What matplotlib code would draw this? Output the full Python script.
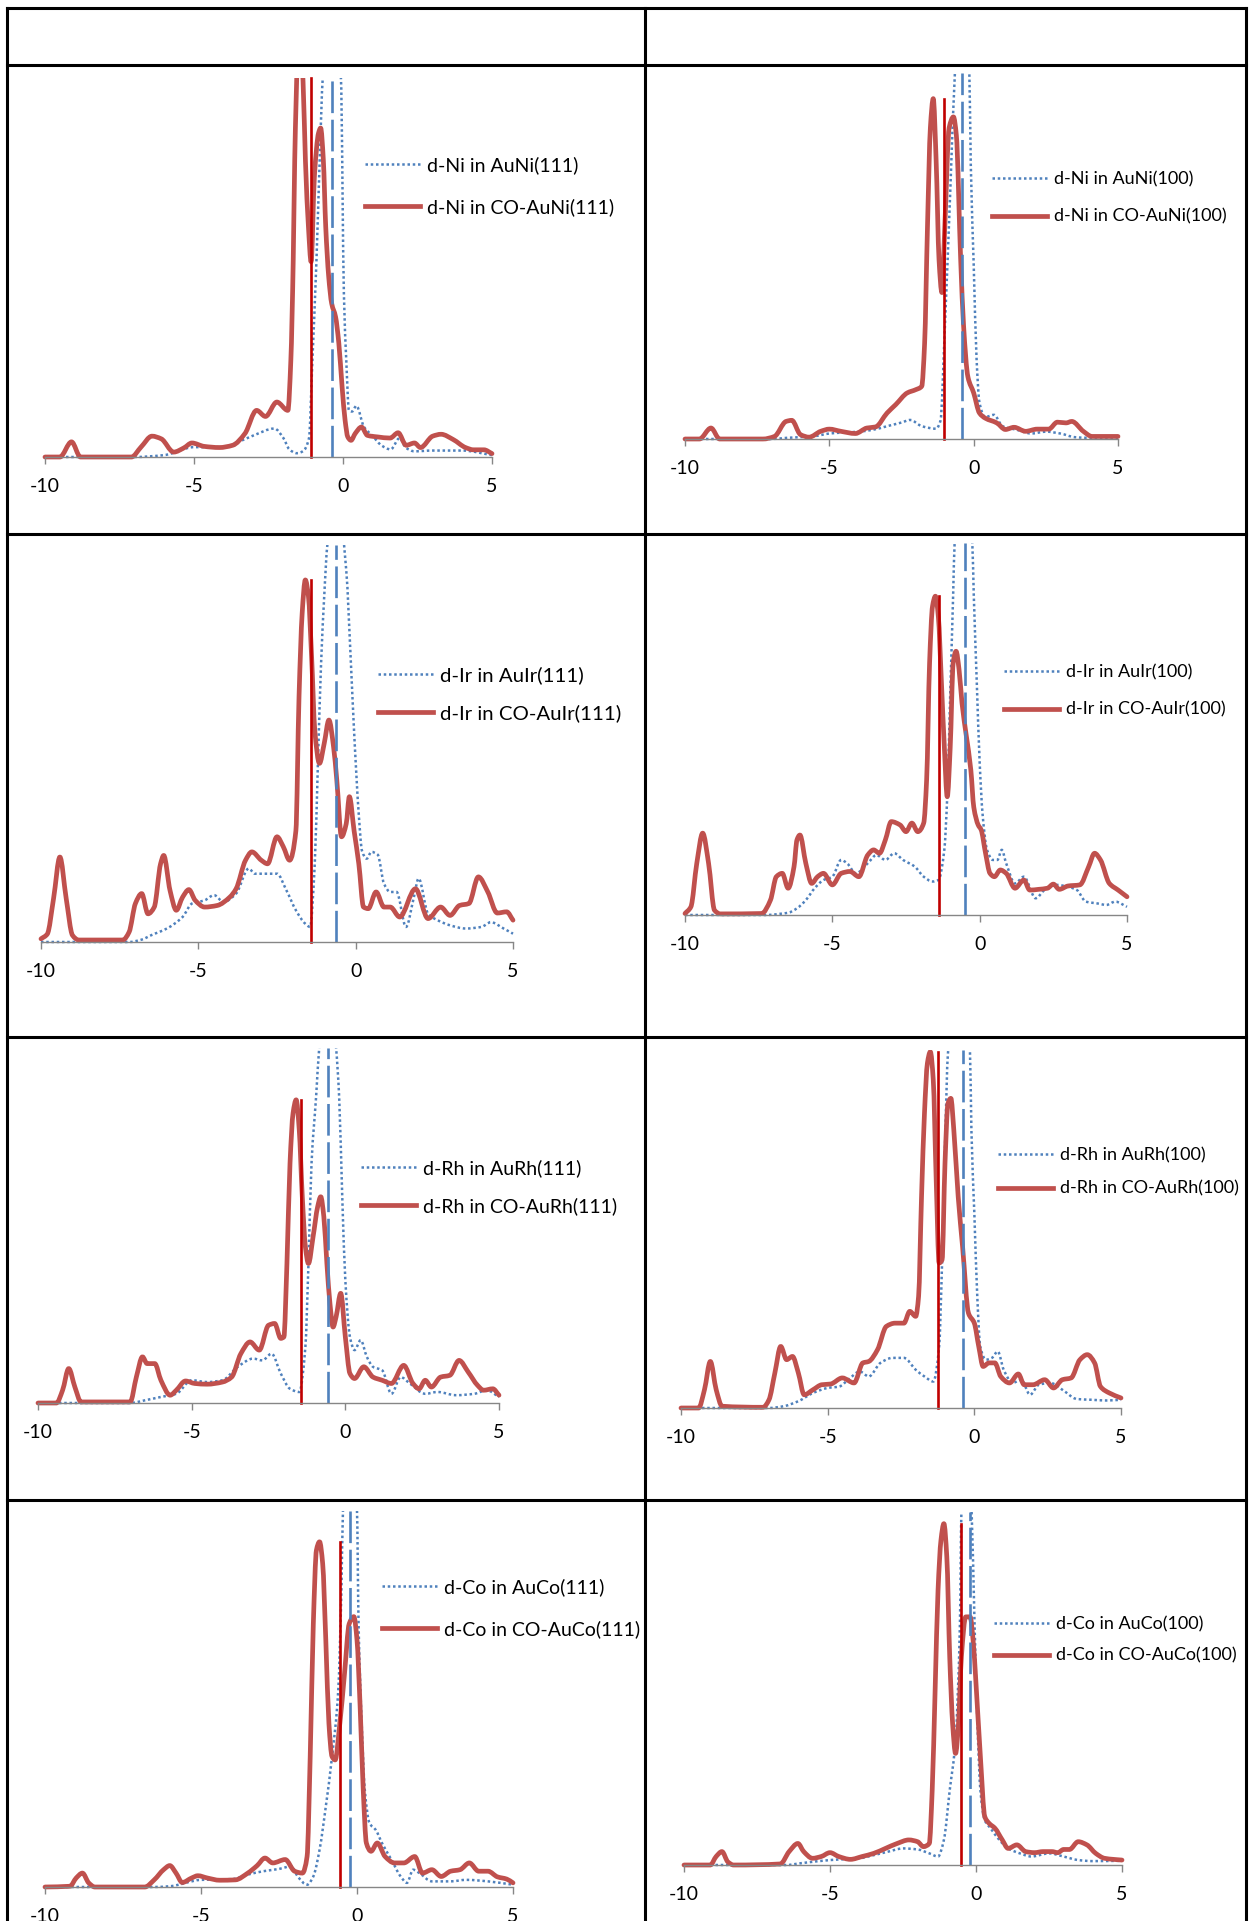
import matplotlib.pyplot as plt
from matplotlib.patches import Rectangle, PathPatch
from matplotlib.path import Path
from matplotlib.lines import Line2D

plt.rcParams['font.family'] = ['Lato', 'DejaVu Sans']
plt.rcParams['axes.unicode_minus'] = False

# ---- d-Ni, (111) surface ----
ni111_red_e = [-10, -9.5, -9.11, -8.81, -7.1, -6.78, -6.41, -6.1, -5.68, -5.34, -5.07, -4.66, -4.15, -3.7, -3.29,
               -2.9, -2.6, -2.22, -1.85, -1.75, -1.67, -1.62, -1.53, -1.44, -1.34, -1.26, -1.16, -1.07, -0.96, -0.82,
               -0.75, -0.66, -0.58, -0.48, -0.38, -0.25, -0.14, -0.03, 0.07, 0.16, 0.27, 0.41, 0.62, 0.82, 1.16,
               1.58, 1.85, 2.12, 2.4, 2.6, 3.01, 3.29, 3.7, 4.11, 4.38, 4.73, 5.0]
ni111_red = [0, 0, 4.0, 0, 0, 2.6, 5.5, 4.8, 1.3, 2.4, 3.7, 2.8, 2.5, 3.1, 6.2,
             12.3, 10.7, 14.5, 12.3, 25.6, 52, 78.4, 104, 112, 99, 78, 60.8, 51.5, 74, 85.5,
             86.8, 78.4, 60.8, 47.6, 40.5, 37, 30, 18.5, 9.7, 5.3, 4.4, 6.2, 7.9, 5.7, 5.3,
             5.0, 6.4, 3.1, 3.7, 2.5, 5.5, 6.0, 4.6, 2.5, 1.9, 1.9, 0.9]
ni111_blue_e = [-10, -7, -6, -5, -4, -3.5, -3, -2.3, -2.0, -1.8, -1.55, -1.35, -1.14, -1.03, -0.89, -0.78, -0.68,
                -0.4, -0.07, 0.03, 0.11, 0.2, 0.3, 0.45, 0.7, 1.0, 1.3, 1.6, 1.9, 2.1, 2.4, 3, 4, 5]
ni111_blue = [0, 0, 0.5, 2.6, 2.6, 4.0, 5.7, 7.5, 5, 2, 1, 1.5, 5, 25, 52, 79, 100,
              120, 100, 43, 25.5, 12.3, 12, 13.5, 8, 5.5, 3, 2, 5, 2.5, 1.5, 1.7, 1.7, 0.5]

# ---- d-Ni, (100) surface ----
ni100_red_e = [-10, -9.5, -9.1, -8.8, -7.3, -6.9, -6.5, -6.3, -6.0, -5.7, -5.3, -5.0, -4.6, -4.1, -3.7, -3.4, -3.0,
               -2.7, -2.3, -2.0, -1.8, -1.7, -1.6, -1.5, -1.4, -1.3, -1.2, -1.1, -1.0, -0.85, -0.7, -0.6, -0.45,
               -0.35, -0.2, 0.0, 0.2, 0.4, 0.8, 1.1, 1.4, 1.8, 2.2, 2.6, 2.9, 3.2, 3.4, 3.8, 4.1, 5.0]
ni100_red = [0, 0, 3.0, 0, 0, 0.7, 4.8, 5.1, 1.2, 0.5, 2.1, 2.7, 2.1, 1.5, 3.0, 3.3, 7.1,
             9.4, 12.6, 13.5, 14.4, 26, 58, 85, 93, 76, 49, 40, 58, 85, 88, 83, 49,
             31, 17, 12.6, 7.1, 5.7, 4.4, 2.6, 3.2, 2.1, 2.7, 2.7, 4.6, 4.4, 4.8, 2.1, 0.7, 0.7]
ni100_blue_e = [-10, -7, -6.5, -5.5, -5, -4, -3.5, -3, -2.5, -2.2, -1.8, -1.3, -1.15, -1.0, -0.8, -0.65, -0.4,
                -0.15, -0.1, 0.0, 0.1, 0.2, 0.4, 0.7, 1.0, 1.5, 2, 2.5, 3, 3.5, 4, 5]
ni100_blue = [0, 0, 0.3, 0.8, 1.5, 2, 2.5, 3.5, 4.5, 5.2, 3.5, 2.8, 5, 30, 70, 100, 125,
              100, 75, 48, 22, 10, 6, 6.6, 3.5, 2.5, 1.5, 2, 1.5, 0.5, 0.3, 0.2]

# ---- d-Ir, (111) surface ----
ir111_red_e = [-10, -9.8, -9.6, -9.4, -9.2, -9.0, -8.8, -7.4, -7.2, -7.0, -6.8, -6.6, -6.4, -6.2, -6.1, -5.9, -5.7,
               -5.5, -5.3, -5.1, -4.8, -4.4, -4.0, -3.8, -3.5, -3.3, -3.0, -2.8, -2.5, -2.3, -2.1, -1.9, -1.8, -1.7,
               -1.6, -1.5, -1.4, -1.3, -1.15, -1.0, -0.85, -0.7, -0.6, -0.45, -0.3, -0.2, -0.05, 0.1, 0.25, 0.4,
               0.65, 0.9, 1.1, 1.4, 1.9, 2.3, 2.7, 3.0, 3.3, 3.6, 3.9, 4.2, 4.5, 4.8, 5.0]
ir111_red = [0.8, 2, 11, 21.4, 11, 1.7, 0.5, 0.5, 2.5, 9.7, 12.2, 7.1, 8.8, 19.7, 21.8, 13, 8,
             11.3, 13.2, 10.5, 8.8, 9.2, 11.3, 13.4, 20.6, 22.7, 20.6, 19.7, 26.5, 24, 20.6, 28, 61.8, 82.8,
             91.2, 87, 71.8, 53.4, 45, 50, 55.9, 49, 40.8, 26.5, 29.8, 36.6, 28, 19.7, 8.8, 8.4,
             12.6, 8.8, 8.8, 6.3, 13.4, 5.9, 8.8, 6.7, 9.2, 9.7, 16.4, 12.6, 7.3, 7.6, 5.5]
ir111_blue_e = [-10, -7.2, -6.8, -6.5, -6.0, -5.5, -5.2, -4.8, -4.5, -4.2, -3.8, -3.4, -3.2, -2.8, -2.5, -2.2,
                -1.9, -1.6, -1.45, -1.3, -1.2, -1.1, -1.0, -0.9, -0.6, -0.3, -0.15, -0.05, 0.1, 0.2, 0.35, 0.5,
                0.7, 0.9, 1.1, 1.3, 1.6, 1.85, 2.0, 2.3, 2.6, 3.0, 3.5, 4.0, 4.3, 4.7, 5.0]
ir111_blue = [0, 0, 0.6, 1.7, 3.4, 6.3, 9.7, 10.5, 11.8, 10.1, 12.2, 18.5, 17.2, 17.2, 17.2, 13,
              8, 4.6, 3.8, 19.7, 45, 70, 87, 100, 112, 93.7, 70, 53, 32, 23, 21, 22.7,
              22, 14.7, 12.6, 12.6, 3.8, 11.3, 16, 7.1, 5.5, 4.2, 3.4, 3.8, 5, 3.4, 2.1]

# ---- d-Ir, (100) surface ----
ir100_red_e = [-10, -9.8, -9.6, -9.4, -9.2, -9.0, -8.8, -7.4, -7.1, -6.9, -6.7, -6.5, -6.3, -6.2, -6.1, -5.9,
               -5.7, -5.5, -5.3, -5.0, -4.7, -4.4, -4.1, -3.8, -3.6, -3.4, -3.2, -3.0, -2.7, -2.5, -2.3, -2.1,
               -1.9, -1.8, -1.7, -1.6, -1.5, -1.4, -1.3, -1.2, -1.1, -1.0, -0.9, -0.8, -0.7, -0.6, -0.45, -0.3,
               -0.2, -0.05, 0.05, 0.2, 0.35, 0.5, 0.7, 0.9, 1.2, 1.5, 1.7, 2.0, 2.3, 2.5, 2.7, 3.0, 3.4, 3.7,
               3.9, 4.1, 4.4, 4.7, 5.0]
ir100_red = [0.4, 2.2, 13.9, 22, 13.9, 1.3, 0.3, 0.4, 4, 10.3, 11.2, 7.2, 13, 20.2, 21.5, 13.9,
             8.5, 10.3, 11.2, 8.1, 11.2, 11.7, 10.3, 16.1, 17.5, 16.6, 20.2, 25.1, 24.2, 22.4, 24.7, 22.4,
             24.7, 36.3, 67.7, 83, 85.7, 80, 63, 45.3, 31.8, 45, 67.7, 70.9, 66, 57, 48, 39,
             29, 24.2, 22.9, 16.6, 11.2, 10.3, 12.1, 11.2, 7.2, 9.4, 6.7, 6.9, 7.2, 8.3, 6.9, 7.8, 8.1, 13,
             16.6, 14.8, 8.5, 6.7, 4.9]
ir100_blue_e = [-10, -7.2, -6.8, -6.5, -6.2, -5.9, -5.6, -5.3, -5.0, -4.7, -4.5, -4.2, -3.8, -3.5, -3.2, -2.9,
                -2.6, -2.2, -1.9, -1.6, -1.4, -1.2, -1.1, -1.0, -0.9, -0.85, -0.55, -0.25, -0.2, -0.1, 0.0, 0.1,
                0.25, 0.45, 0.6, 0.75, 0.9, 1.2, 1.5, 1.9, 2.2, 2.6, 3.0, 3.3, 3.6, 4.0, 4.3, 4.6, 5.0]
ir100_blue = [0, 0, 0.3, 0.6, 1.8, 4, 7.2, 9.4, 10.3, 14.8, 13.9, 11.2, 13.9, 16.1, 14.8, 16.6,
              14.8, 13, 10.3, 9, 9.4, 17.5, 32, 59, 86, 100, 120, 100, 86, 63, 41, 27,
              17.5, 14.8, 14.8, 17.5, 13.9, 8.5, 10.3, 4.5, 6.7, 8.1, 7.6, 6.7, 3.6, 3.1, 2.7, 3.6, 2.2]

# ---- d-Rh, (111) surface ----
rh111_red_e = [-10, -9.4, -9.2, -9.0, -8.8, -8.6, -7.0, -6.8, -6.6, -6.45, -6.2, -6.0, -5.7, -5.5, -5.2, -4.9,
               -4.5, -4.0, -3.7, -3.4, -3.1, -2.8, -2.5, -2.3, -2.1, -2.0, -1.9, -1.8, -1.7, -1.6, -1.5, -1.4,
               -1.3, -1.2, -1.05, -0.9, -0.8, -0.7, -0.6, -0.5, -0.4, -0.3, -0.15, 0.0, 0.15, 0.3, 0.6, 0.9,
               1.2, 1.5, 1.9, 2.2, 2.4, 2.6, 2.8, 3.1, 3.4, 3.7, 4.0, 4.3, 4.5, 4.8, 5.0]
rh111_red = [0, 0, 3.6, 9.7, 4.5, 0.3, 0.3, 7.3, 13, 11.1, 11.1, 6.4, 2.2, 3.6, 6.2, 5.5,
             5.3, 5.9, 7.3, 13.9, 17.2, 14.9, 21.9, 22.4, 18.2, 18.6, 39.3, 67.5, 81.7, 85.4, 77, 58,
             44, 39.3, 46.8, 55.3, 58.1, 52.5, 39.3, 28, 21.4, 24.3, 30.9, 18.6, 8.3, 6.9, 10.2, 7.3,
             6.4, 5.5, 10.6, 5.5, 4, 6.4, 4.5, 7.3, 7.8, 12, 8.7, 5, 3.6, 4, 2.2]
rh111_blue_e = [-10, -7, -6.5, -6.0, -5.5, -5.0, -4.5, -4.0, -3.5, -3.0, -2.7, -2.4, -2.1, -1.8, -1.5, -1.3,
                -1.2, -1.1, -0.95, -0.85, -0.55, -0.3, -0.2, -0.1, 0.0, 0.15, 0.3, 0.5, 0.7, 0.9, 1.2, 1.5,
                1.8, 2.1, 2.6, 3.0, 3.6, 4.2, 4.6, 5.0]
rh111_blue = [0, 0, 0.8, 1.7, 2.6, 6.4, 5.9, 6.4, 10.2, 12.5, 12, 13.9, 8.3, 4, 3.1, 15.8,
              39.3, 67.5, 86.4, 100, 120, 100, 86, 58, 34.6, 18.6, 14.9, 17.7, 13, 10.2, 9.2, 2.6,
              7.3, 5.5, 2.6, 3.1, 2.2, 2.6, 3.6, 1.7]

# ---- d-Rh, (100) surface ----
rh100_red_e = [-10, -9.4, -9.2, -9.0, -8.8, -8.6, -7.2, -7.0, -6.8, -6.6, -6.4, -6.2, -6.0, -5.8, -5.5, -5.2,
               -4.9, -4.5, -4.1, -3.8, -3.6, -3.3, -3.0, -2.7, -2.4, -2.2, -2.0, -1.9, -1.8, -1.7, -1.6, -1.5,
               -1.4, -1.3, -1.2, -1.1, -1.0, -0.9, -0.8, -0.7, -0.55, -0.4, -0.2, 0.0, 0.15, 0.3, 0.5, 0.7,
               0.9, 1.2, 1.5, 1.7, 2.0, 2.4, 2.7, 3.0, 3.3, 3.6, 3.85, 4.1, 4.3, 4.6, 5.0]
rh100_red = [0, 0, 5.1, 13, 5.1, 0.5, 0.2, 2.3, 9.8, 17.2, 13.5, 14.4, 9.8, 3.7, 5.1, 6.5,
             6.7, 8.4, 7, 12.6, 13, 16.3, 22.8, 23.7, 23.7, 27, 25.6, 31.2, 59, 82.3, 96.3, 99.5,
             91.6, 63.7, 40.5, 41.4, 68.4, 85, 86.5, 77.7, 59, 45, 26.5, 23.7, 17.2, 11.6, 12.6, 12.6,
             8.8, 7, 9.5, 6.5, 6.5, 7.9, 5.6, 7.9, 8.4, 13.5, 14.9, 12.6, 6, 4.2, 2.8]
rh100_blue_e = [-10, -7, -6.5, -6.0, -5.5, -5.0, -4.6, -4.3, -3.9, -3.6, -3.2, -2.8, -2.4, -2.0, -1.7, -1.4,
                -1.2, -1.1, -1.0, -0.9, -0.5, -0.15, -0.1, 0.0, 0.1, 0.2, 0.4, 0.6, 0.8, 1.0, 1.3, 1.6,
                1.9, 2.2, 2.6, 3.0, 3.5, 4.0, 4.5, 5.0]
rh100_blue = [0, 0, 0.5, 1.9, 4.2, 5.6, 6, 7.9, 10.2, 8.8, 12.6, 14, 14, 10.7, 8.8, 7.4,
              17.2, 40.5, 73, 99, 120, 100, 77.7, 54.4, 31.2, 17.2, 13.5, 14, 15.8, 10.7, 7, 7.9,
              3.7, 6.5, 7, 5.1, 2.5, 2.3, 2.1, 2.3]

# ---- d-Co, (111) surface ----
co111_red_e = [-10, -9.2, -9.0, -8.8, -8.6, -8.4, -6.8, -6.5, -6.2, -6.0, -5.8, -5.6, -5.3, -5.1, -4.8, -4.4,
               -3.9, -3.5, -3.2, -2.95, -2.7, -2.3, -2.0, -1.75, -1.6, -1.5, -1.4, -1.3, -1.2, -1.1, -1.0, -0.9,
               -0.8, -0.7, -0.55, -0.4, -0.25, -0.1, 0.0, 0.1, 0.2, 0.3, 0.45, 0.65, 0.9, 1.2, 1.5, 1.85,
               2.1, 2.4, 2.7, 3.0, 3.3, 3.6, 3.9, 4.2, 4.5, 4.8, 5.0]
co111_red = [0, 0.2, 2.4, 3.7, 1.1, 0, 0, 1.9, 4.6, 5.7, 3.7, 1.2, 2.4, 3, 2.4, 1.8,
             1.9, 3.7, 5.7, 7.7, 6.4, 7.3, 4.2, 3.7, 8.1, 34.7, 70, 89.6, 91.8, 86, 65.7, 43.5,
             34.7, 33.8, 43.5, 56.8, 70, 71.9, 65.7, 48, 25.8, 11.7, 9.5, 11.7, 8.1, 6.4, 6.4, 8.1,
             3.7, 4.6, 2.8, 4.2, 4.6, 6.4, 4.2, 4.2, 2.7, 2.1, 1.1]
co111_blue_e = [-10, -6.5, -6.0, -5.0, -4.0, -3.5, -3.0, -2.5, -2.1, -1.9, -1.6, -1.4, -1.2, -1.0, -0.8, -0.6,
                -0.5, -0.45, -0.2, 0.0, 0.05, 0.15, 0.25, 0.4, 0.6, 0.8, 1.1, 1.4, 1.6, 1.8, 2.0, 2.4,
                3.0, 3.5, 4.2, 5.0]
co111_blue = [0, 0, 0.2, 1.9, 2.1, 3.3, 4.2, 4.8, 5.5, 2.8, 0.6, 2.8, 9.9, 21.4, 34.7, 52.4,
              79, 100, 120, 100, 70, 43.5, 25.8, 17, 15.2, 11.7, 7.3, 2.8, 1.1, 4.6, 3.7, 1.5,
              1.5, 1.9, 1.5, 0.6]

# ---- d-Co, (100) surface ----
co100_red_e = [-10, -9.1, -8.9, -8.7, -8.5, -8.3, -6.7, -6.4, -6.1, -5.9, -5.6, -5.3, -5.0, -4.7, -4.3, -3.9,
               -3.5, -3.1, -2.7, -2.3, -2.0, -1.8, -1.6, -1.5, -1.4, -1.3, -1.2, -1.1, -1.0, -0.9, -0.8, -0.7,
               -0.6, -0.5, -0.35, -0.2, -0.1, 0.0, 0.15, 0.3, 0.45, 0.65, 0.9, 1.1, 1.4, 1.7, 2.0, 2.3,
               2.6, 2.8, 3.0, 3.2, 3.5, 3.8, 4.1, 4.4, 4.7, 5.0]
co100_red = [0, 0, 2.4, 3.8, 0.9, 0, 0.3, 3.8, 6.1, 3.8, 1.9, 2.4, 3.5, 2.4, 1.6, 2.4,
             3.3, 4.7, 6.1, 7.1, 6.6, 5.2, 6.1, 21.2, 49.5, 77.8, 92, 96.7, 87.3, 59, 40, 31.6,
             40, 59, 70.3, 70.3, 63.7, 51.4, 30.7, 13.7, 11.8, 10.4, 7.1, 4.7, 5.7, 3.8, 3.5, 3.8,
             3.8, 3.5, 4.4, 4.4, 6.6, 5.7, 3.3, 1.9, 1.6, 1.4]
co100_blue_e = [-10, -6.5, -6.0, -5.0, -4.0, -3.5, -3.0, -2.5, -2.0, -1.6, -1.3, -1.1, -0.9, -0.7, -0.55, -0.5,
                -0.3, -0.15, -0.05, 0.05, 0.15, 0.3, 0.5, 0.8, 1.1, 1.5, 1.9, 2.5, 3.0, 3.5, 4.0, 5.0]
co100_blue = [0, 0, 0.5, 1.4, 1.9, 2.8, 3.8, 4.7, 4.4, 3.3, 2.4, 7.1, 21.2, 35.4, 68.4, 100,
              120, 100, 68.4, 40, 21.2, 12.7, 10.4, 7.1, 4.7, 3.3, 2.4, 3.3, 2.4, 1.4, 1.1, 1.2]

# d-band centres (vertical lines), same panel order
centre_red = [-1.07, -1.03, -1.42, -1.37, -1.43, -1.24, -0.55, -0.50]
centre_blue = [-0.38, -0.41, -0.61, -0.49, -0.57, -0.39, -0.22, -0.21]

labels = [("d-Ni in AuNi(111)", "d-Ni in CO-AuNi(111)"),
          ("d-Ni in AuNi(100)", "d-Ni in CO-AuNi(100)"),
          ("d-Ir in AuIr(111)", "d-Ir in CO-AuIr(111)"),
          ("d-Ir in AuIr(100)", "d-Ir in CO-AuIr(100)"),
          ("d-Rh in AuRh(111)", "d-Rh in CO-AuRh(111)"),
          ("d-Rh in AuRh(100)", "d-Rh in CO-AuRh(100)"),
          ("d-Co in AuCo(111)", "d-Co in CO-AuCo(111)"),
          ("d-Co in AuCo(100)", "d-Co in CO-AuCo(100)")]

series = [(ni111_blue_e, ni111_blue, ni111_red_e, ni111_red),
          (ni100_blue_e, ni100_blue, ni100_red_e, ni100_red),
          (ir111_blue_e, ir111_blue, ir111_red_e, ir111_red),
          (ir100_blue_e, ir100_blue, ir100_red_e, ir100_red),
          (rh111_blue_e, rh111_blue, rh111_red_e, rh111_red),
          (rh100_blue_e, rh100_blue, rh100_red_e, rh100_red),
          (co111_blue_e, co111_blue, co111_red_e, co111_red),
          (co100_blue_e, co100_blue, co100_red_e, co100_red)]

# layout in pixels: (x at -10, x at 5, baseline y, top y); legend (x, centre y, row gap, font size)
boxes = [(45, 492, 457, 78), (685, 1118, 439, 73),
         (41, 513, 942, 545), (685, 1127, 915, 543),
         (38, 499, 1403, 1048), (681, 1121, 1408, 1050),
         (45, 513, 1887, 1511), (684, 1122, 1865, 1512)]
legends = [(365, 186, 42, 14), (992, 198, 39, 13.0), (378, 694, 37, 14.7), (1004, 691, 39, 13.0),
           (361, 1187, 38, 14), (998, 1172, 35, 13.0), (382, 1608, 41, 14), (994, 1640, 33, 13.0)]

W, H = 1253, 1921
BLUE = '#4F81BD'
RED = '#C0504D'
DARKRED = '#C00000'
AXIS = '#868686'
DOTS = (0, (1, 1.1))


def smooth(xs, ys):
    # Excel-like smoothed line: cubic Bezier through every point, no overshoot
    n = len(xs)
    h = [xs[k + 1] - xs[k] for k in range(n - 1)]
    d = [(ys[k + 1] - ys[k]) / h[k] for k in range(n - 1)]
    m = [d[0]] + [0.0] * (n - 2) + [d[-1]]
    for k in range(1, n - 1):
        if d[k - 1] * d[k] > 0:
            w1 = 2 * h[k] + h[k - 1]
            w2 = h[k] + 2 * h[k - 1]
            m[k] = (w1 + w2) / (w1 / d[k - 1] + w2 / d[k])
    verts = [(xs[0], ys[0])]
    codes = [Path.MOVETO]
    for k in range(n - 1):
        verts += [(xs[k] + h[k] / 3, ys[k] + m[k] * h[k] / 3),
                  (xs[k + 1] - h[k] / 3, ys[k + 1] - m[k + 1] * h[k] / 3),
                  (xs[k + 1], ys[k + 1])]
        codes += [Path.CURVE4] * 3
    return Path(verts, codes)


fig = plt.figure(figsize=(W / 100, H / 100), dpi=100)

# table grid behind the charts
grid = fig.add_axes([0, 0, 1, 1])
grid.set_xlim(0, W)
grid.set_ylim(H, 0)
grid.axis('off')
for y in [8, 65, 534, 1037, 1500]:
    grid.plot([7, 1246], [y, y], color='black', lw=2.2, solid_capstyle='projecting')
for x in [7, 645, 1246]:
    grid.plot([x, x], [8, H], color='black', lw=2.2, solid_capstyle='projecting')

for i, (be, b, re, r) in enumerate(series):
    x0, x1, yb, yt = boxes[i]
    ax = fig.add_axes([x0 / W, 1 - yb / H, (x1 - x0) / W, (yb - yt) / H])
    ax.set_xlim(-10, 5)
    ax.set_ylim(0, 100)
    ax.patch.set_visible(False)

    # let the thick line sit on the baseline, but cut the peaks at the top
    clip = Rectangle((-11, -3), 17, 103, transform=ax.transData)
    pb = PathPatch(smooth(be, b), fill=False, edgecolor=BLUE, lw=1.8, ls=DOTS)
    pr = PathPatch(smooth(re, r), fill=False, edgecolor=RED, lw=3.4,
                   joinstyle='round', capstyle='round')
    for p in (pb, pr):
        ax.add_patch(p)
        p.set_clip_path(clip)

    h_red = min(max(r), 100)
    h_blue = min(max(b), 100)
    ax.plot([centre_red[i], centre_red[i]], [0, h_red], color=DARKRED, lw=1.9, clip_on=False)
    ax.plot([centre_blue[i], centre_blue[i]], [0, h_blue], color=BLUE, lw=1.9,
            ls=(0, (12, 2.5)), clip_on=False)

    for s in ['top', 'left', 'right']:
        ax.spines[s].set_visible(False)
    ax.spines['bottom'].set_color(AXIS)
    ax.spines['bottom'].set_linewidth(1.0)
    ax.set_yticks([])
    ax.set_xticks([-10, -5, 0, 5])
    ax.tick_params(axis='x', direction='out', length=5, width=1, color=AXIS,
                   labelsize=14, pad=10, labelcolor='black')

    lx, ly, gap, fs = legends[i]
    fpx = fs * 100 / 72
    hb = Line2D([], [], color=BLUE, lw=1.8, ls=DOTS)
    hr = Line2D([], [], color=RED, lw=3.4)
    ax.legend([hb, hr], labels[i], loc='center left',
              bbox_to_anchor=(lx / W, 1 - ly / H), bbox_transform=fig.transFigure,
              frameon=False, fontsize=fs, handlelength=55 / fpx, handletextpad=7 / fpx,
              labelspacing=(gap - 17.5) / fpx, borderpad=0, borderaxespad=0)

fig.savefig('out.png', dpi=100, facecolor='white')
